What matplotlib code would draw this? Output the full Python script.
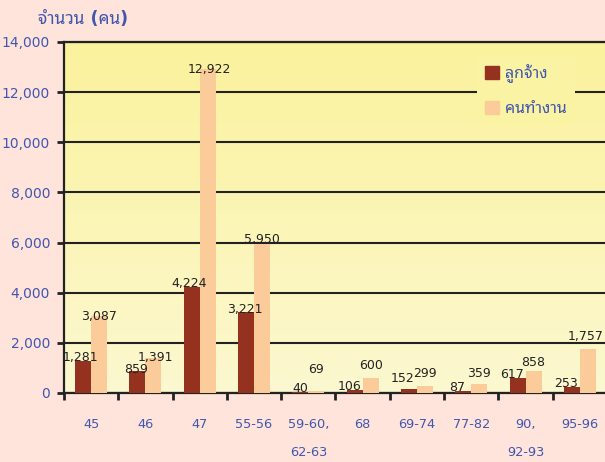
import numpy as np
import matplotlib
matplotlib.use("Agg")
import matplotlib.pyplot as plt
from matplotlib.patches import Patch
from matplotlib.ticker import FuncFormatter, MultipleLocator, FixedLocator

# DejaVu for digits, Thai glyphs from Noto Sans Thai Looped
plt.rcParams['font.family'] = ['DejaVu Sans', 'Noto Sans Thai Looped']
thai = ['Noto Sans Thai Looped', 'DejaVu Sans']

# ── data ──────────────────────────────
categories = ["45", "46", "47", "55-56", "59-60,\n62-63", "68", "69-74", "77-82", "90,\n92-93", "95-96"]
employees = [1281, 859, 4224, 3221, 40, 106, 152, 87, 617, 253]      # ลูกจ้าง
workers = [3087, 1391, 12922, 5950, 69, 600, 299, 359, 858, 1757]    # คนทำงาน

# label nudges in pixels (dx, dy)
emp_dx = [-3, -1, -3, -1, 0, -5, -6, -6, -6, -6]
emp_dy = [0, -2, 0, -1, 0, 0, 7, 0, 0, 0]
wrk_dx = [0, 2, 2, 0, 0, 0, 0, 0, 0, -2]
wrk_dy = [-4, -3, -4, 1, 18, 9, 9, 7, 5, 9]

blue = "#4256AE"
dark = "#95311F"
light = "#FBCB99"
top_col = np.array([250, 242, 156]) / 255
bot_col = np.array([252, 248, 208]) / 255

fig = plt.figure(figsize=(6.05, 4.62), dpi=100, facecolor="#FEE4DB")
ax = fig.add_axes([64 / 605, 1 - 393 / 462, 543 / 605, 351 / 462])

# gradient background
grad = np.linspace(0, 1, 256)[:, None, None]
img = top_col * (1 - grad) + bot_col * grad
ax.imshow(img, extent=[0, 1, 0, 1], transform=ax.transAxes, aspect="auto", zorder=0)

x = np.arange(len(categories))
w = 0.295
ax.bar(x - w / 2, employees, w, color=dark, zorder=3)
ax.bar(x + w / 2, workers, w, color=light, zorder=3)

for i in range(len(x)):
    ax.annotate(f"{employees[i]:,}", (x[i] - w / 2, employees[i]), xytext=(emp_dx[i], emp_dy[i]),
                textcoords="offset pixels", ha="center", va="baseline", fontsize=9, color="#222222", zorder=5)
    ax.annotate(f"{workers[i]:,}", (x[i] + w / 2, workers[i]), xytext=(wrk_dx[i], wrk_dy[i]),
                textcoords="offset pixels", ha="center", va="baseline", fontsize=9, color="#222222", zorder=5)

ax.set_xlim(-0.5, len(categories) - 0.5)
ax.set_ylim(0, 14000)
ax.yaxis.set_major_locator(MultipleLocator(2000))
ax.yaxis.set_major_formatter(FuncFormatter(lambda v, p: f"{v:,.0f}"))
ax.grid(axis="y", color="#222222", linewidth=1.5, zorder=1)
ax.set_axisbelow(True)

ax.set_xticks(x)
ax.set_xticklabels(categories, linespacing=2.55, va="top")
ax.xaxis.set_minor_locator(FixedLocator(np.arange(-0.5, len(categories), 1)))
ax.tick_params(axis="x", which="major", length=0, pad=18, labelsize=9.3, labelcolor=blue)
ax.tick_params(axis="x", which="minor", length=5, width=2, color="#222222")
ax.tick_params(axis="y", length=5, width=2, color="#222222", pad=5, labelsize=10, labelcolor=blue)

for s in ax.spines.values():
    s.set_linewidth(1.6)
    s.set_color("#222222")

fig.text(38 / 605, 1 - 19 / 462, "จำนวน (คน)", fontsize=12.5, fontweight="bold",
         color=blue, va="center")

leg_face = tuple(top_col * 0.86 + bot_col * 0.14)
handles = [Patch(color=dark, label="ลูกจ้าง"), Patch(color=light, label="คนทำงาน")]
leg = ax.legend(handles=handles, loc="upper left", bbox_to_anchor=((477 - 64) / 543, 1 - 14 / 351),
                frameon=True, facecolor=leg_face, edgecolor="none", fancybox=False, framealpha=1,
                prop={'family': thai, 'size': 11.5}, handlelength=0.9, handleheight=0.9,
                handletextpad=0.35, labelspacing=1.15, borderpad=0.5, borderaxespad=0)
for t in leg.get_texts():
    t.set_color(blue)

fig.savefig("out.png", dpi=100, facecolor=fig.get_facecolor())
